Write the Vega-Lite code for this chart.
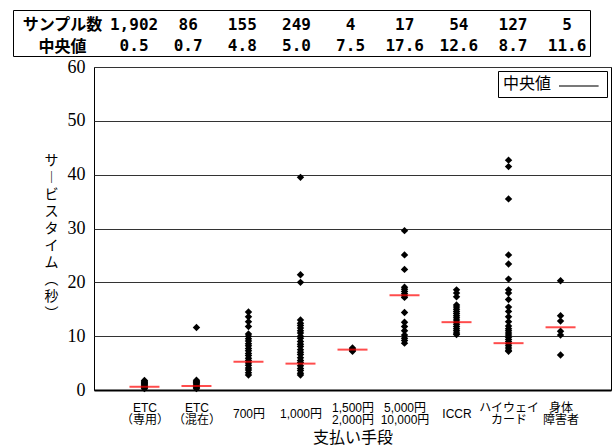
{
  "$schema": "https://vega.github.io/schema/vega-lite/v6.json",
  "padding": {"left": 12, "top": 9, "right": 0, "bottom": 0},
  "background": "white",
  "config": {"view": {"stroke": "black", "strokeWidth": 1}, "font": "Noto Sans CJK JP"},
  "datasets": {
    "table": [
      {"col": "ETC|（専用）", "row": "サンプル数", "t": "1,902"},
      {"col": "ETC|（専用）", "row": "中央値", "t": "0.5"},
      {"col": "ETC|（混在）", "row": "サンプル数", "t": "86"},
      {"col": "ETC|（混在）", "row": "中央値", "t": "0.7"},
      {"col": "700円", "row": "サンプル数", "t": "155"},
      {"col": "700円", "row": "中央値", "t": "4.8"},
      {"col": "1,000円", "row": "サンプル数", "t": "249"},
      {"col": "1,000円", "row": "中央値", "t": "5.0"},
      {"col": "1,500円|2,000円", "row": "サンプル数", "t": "4"},
      {"col": "1,500円|2,000円", "row": "中央値", "t": "7.5"},
      {"col": "5,000円|10,000円", "row": "サンプル数", "t": "17"},
      {"col": "5,000円|10,000円", "row": "中央値", "t": "17.6"},
      {"col": "ICCR", "row": "サンプル数", "t": "54"},
      {"col": "ICCR", "row": "中央値", "t": "12.6"},
      {"col": "ハイウェイ|カード", "row": "サンプル数", "t": "127"},
      {"col": "ハイウェイ|カード", "row": "中央値", "t": "8.7"},
      {"col": "身体|障害者", "row": "サンプル数", "t": "5"},
      {"col": "身体|障害者", "row": "中央値", "t": "11.6"}
    ],
    "med": [
      {"cat": "ETC|（専用）", "m": 0.6},
      {"cat": "ETC|（混在）", "m": 0.74},
      {"cat": "700円", "m": 5.25},
      {"cat": "1,000円", "m": 4.9},
      {"cat": "1,500円|2,000円", "m": 7.5},
      {"cat": "5,000円|10,000円", "m": 17.6},
      {"cat": "ICCR", "m": 12.6},
      {"cat": "ハイウェイ|カード", "m": 8.7},
      {"cat": "身体|障害者", "m": 11.65}
    ],
    "pts": [
      {"cat": "ETC|（専用）", "v": 0.25}, {"cat": "ETC|（専用）", "v": 0.4}, {"cat": "ETC|（専用）", "v": 0.55}, {"cat": "ETC|（専用）", "v": 0.7}, {"cat": "ETC|（専用）", "v": 0.9}, {"cat": "ETC|（専用）", "v": 1.05}, {"cat": "ETC|（専用）", "v": 1.2}, {"cat": "ETC|（専用）", "v": 1.4}, {"cat": "ETC|（専用）", "v": 1.55}, {"cat": "ETC|（専用）", "v": 1.75},
      {"cat": "ETC|（混在）", "v": 0.25}, {"cat": "ETC|（混在）", "v": 0.4}, {"cat": "ETC|（混在）", "v": 0.6}, {"cat": "ETC|（混在）", "v": 0.75}, {"cat": "ETC|（混在）", "v": 0.9}, {"cat": "ETC|（混在）", "v": 1.1}, {"cat": "ETC|（混在）", "v": 1.3}, {"cat": "ETC|（混在）", "v": 1.45}, {"cat": "ETC|（混在）", "v": 1.6}, {"cat": "ETC|（混在）", "v": 1.8}, {"cat": "ETC|（混在）", "v": 11.6},
      {"cat": "700円", "v": 14.5}, {"cat": "700円", "v": 13.6}, {"cat": "700円", "v": 12.7}, {"cat": "700円", "v": 11.8}, {"cat": "700円", "v": 10.4}, {"cat": "700円", "v": 10.0}, {"cat": "700円", "v": 9.5}, {"cat": "700円", "v": 9.1}, {"cat": "700円", "v": 8.6}, {"cat": "700円", "v": 8.2}, {"cat": "700円", "v": 7.7}, {"cat": "700円", "v": 7.3}, {"cat": "700円", "v": 6.8}, {"cat": "700円", "v": 6.4}, {"cat": "700円", "v": 5.9}, {"cat": "700円", "v": 5.5}, {"cat": "700円", "v": 5.0}, {"cat": "700円", "v": 4.6}, {"cat": "700円", "v": 4.1}, {"cat": "700円", "v": 3.7}, {"cat": "700円", "v": 3.2}, {"cat": "700円", "v": 2.8},
      {"cat": "1,000円", "v": 39.5}, {"cat": "1,000円", "v": 21.4}, {"cat": "1,000円", "v": 20.0}, {"cat": "1,000円", "v": 13.0}, {"cat": "1,000円", "v": 12.4}, {"cat": "1,000円", "v": 12.0}, {"cat": "1,000円", "v": 11.5}, {"cat": "1,000円", "v": 11.0}, {"cat": "1,000円", "v": 10.6}, {"cat": "1,000円", "v": 10.0}, {"cat": "1,000円", "v": 9.6}, {"cat": "1,000円", "v": 9.0}, {"cat": "1,000円", "v": 8.5}, {"cat": "1,000円", "v": 8.1}, {"cat": "1,000円", "v": 7.5}, {"cat": "1,000円", "v": 7.0}, {"cat": "1,000円", "v": 6.6}, {"cat": "1,000円", "v": 6.0}, {"cat": "1,000円", "v": 5.5}, {"cat": "1,000円", "v": 5.1}, {"cat": "1,000円", "v": 4.5}, {"cat": "1,000円", "v": 4.0}, {"cat": "1,000円", "v": 3.6}, {"cat": "1,000円", "v": 3.1}, {"cat": "1,000円", "v": 2.8},
      {"cat": "1,500円|2,000円", "v": 7.2}, {"cat": "1,500円|2,000円", "v": 7.4}, {"cat": "1,500円|2,000円", "v": 7.6}, {"cat": "1,500円|2,000円", "v": 7.8},
      {"cat": "5,000円|10,000円", "v": 29.6}, {"cat": "5,000円|10,000円", "v": 25.1}, {"cat": "5,000円|10,000円", "v": 22.4}, {"cat": "5,000円|10,000円", "v": 19.1}, {"cat": "5,000円|10,000円", "v": 18.7}, {"cat": "5,000円|10,000円", "v": 18.3}, {"cat": "5,000円|10,000円", "v": 17.9}, {"cat": "5,000円|10,000円", "v": 17.5}, {"cat": "5,000円|10,000円", "v": 17.2}, {"cat": "5,000円|10,000円", "v": 14.4}, {"cat": "5,000円|10,000円", "v": 12.6}, {"cat": "5,000円|10,000円", "v": 11.8}, {"cat": "5,000円|10,000円", "v": 11.0}, {"cat": "5,000円|10,000円", "v": 10.2}, {"cat": "5,000円|10,000円", "v": 9.6}, {"cat": "5,000円|10,000円", "v": 9.2}, {"cat": "5,000円|10,000円", "v": 8.7},
      {"cat": "ICCR", "v": 18.6}, {"cat": "ICCR", "v": 18.0}, {"cat": "ICCR", "v": 17.3}, {"cat": "ICCR", "v": 15.8}, {"cat": "ICCR", "v": 15.4}, {"cat": "ICCR", "v": 15.0}, {"cat": "ICCR", "v": 14.6}, {"cat": "ICCR", "v": 14.2}, {"cat": "ICCR", "v": 13.8}, {"cat": "ICCR", "v": 13.4}, {"cat": "ICCR", "v": 13.0}, {"cat": "ICCR", "v": 12.6}, {"cat": "ICCR", "v": 12.2}, {"cat": "ICCR", "v": 11.8}, {"cat": "ICCR", "v": 11.4}, {"cat": "ICCR", "v": 11.0}, {"cat": "ICCR", "v": 10.6}, {"cat": "ICCR", "v": 10.3},
      {"cat": "ハイウェイ|カード", "v": 42.7}, {"cat": "ハイウェイ|カード", "v": 41.5}, {"cat": "ハイウェイ|カード", "v": 35.5}, {"cat": "ハイウェイ|カード", "v": 25.1}, {"cat": "ハイウェイ|カード", "v": 23.4}, {"cat": "ハイウェイ|カード", "v": 20.6}, {"cat": "ハイウェイ|カード", "v": 18.6}, {"cat": "ハイウェイ|カード", "v": 18.0}, {"cat": "ハイウェイ|カード", "v": 16.8}, {"cat": "ハイウェイ|カード", "v": 15.4}, {"cat": "ハイウェイ|カード", "v": 14.6}, {"cat": "ハイウェイ|カード", "v": 13.6}, {"cat": "ハイウェイ|カード", "v": 12.7}, {"cat": "ハイウェイ|カード", "v": 11.9}, {"cat": "ハイウェイ|カード", "v": 11.4}, {"cat": "ハイウェイ|カード", "v": 11.0}, {"cat": "ハイウェイ|カード", "v": 10.6}, {"cat": "ハイウェイ|カード", "v": 10.2}, {"cat": "ハイウェイ|カード", "v": 9.8}, {"cat": "ハイウェイ|カード", "v": 9.4}, {"cat": "ハイウェイ|カード", "v": 9.0}, {"cat": "ハイウェイ|カード", "v": 8.6}, {"cat": "ハイウェイ|カード", "v": 8.2}, {"cat": "ハイウェイ|カード", "v": 7.8}, {"cat": "ハイウェイ|カード", "v": 7.4}, {"cat": "ハイウェイ|カード", "v": 7.2},
      {"cat": "身体|障害者", "v": 20.3}, {"cat": "身体|障害者", "v": 13.8}, {"cat": "身体|障害者", "v": 12.8}, {"cat": "身体|障害者", "v": 10.9}, {"cat": "身体|障害者", "v": 10.2}, {"cat": "身体|障害者", "v": 6.5}
    ]
  },
  "spacing": 0,
  "resolve": {"scale": {"color": "independent"}, "legend": {"color": "independent"}},
  "vconcat": [
    {
      "width": 577,
      "height": 46,
      "data": {"name": "table"},
      "mark": {"type": "text", "font": "DejaVu Sans Mono", "fontWeight": "bold", "fontSize": 16, "baseline": "middle", "color": "black"},
      "encoding": {
        "x": {"field": "col", "type": "nominal",
          "scale": {"type": "point", "domain": ["header", "ETC|（専用）", "ETC|（混在）", "700円", "1,000円", "1,500円|2,000円", "5,000円|10,000円", "ICCR", "ハイウェイ|カード", "身体|障害者"], "padding": 0.83, "align": 0.745},
          "axis": null},
        "y": {"field": "row", "type": "nominal", "sort": null, "scale": {"type": "point", "padding": 0.595, "align": 0.6},
          "axis": {"title": null, "orient": "left", "offset": -49, "domain": false, "ticks": false, "tickSize": 0, "labelPadding": 0, "labelAlign": "center", "labelBaseline": "middle", "labelFont": "Noto Sans CJK JP", "labelFontWeight": "bold", "labelFontSize": 16, "labelColor": "black", "grid": false}},
        "text": {"field": "t"}
      }
    },
    {
      "spacing": 0,
      "resolve": {"scale": {"color": "independent"}, "legend": {"color": "independent"}},
      "hconcat": [
        {
          "width": 30,
          "height": 10,
          "view": {"stroke": null},
          "data": {"values": [{}]},
          "mark": {"type": "point", "opacity": 0}
        },
        {
          "width": 517,
          "height": 323,
          "encoding": {
            "x": {"field": "cat", "type": "nominal",
              "sort": ["ETC|（専用）", "ETC|（混在）", "700円", "1,000円", "1,500円|2,000円", "5,000円|10,000円", "ICCR", "ハイウェイ|カード", "身体|障害者"],
              "scale": {"type": "point", "padding": 0.97},
              "axis": {"title": "支払い手段", "labelExpr": "split(datum.label, '|')", "labelAngle": 0, "labelFont": "Liberation Sans, Noto Sans CJK JP", "labelFontSize": 12, "labelColor": "black", "labelBaseline": "top", "labelPadding": {"condition": {"test": "indexof(datum.value, '|') < 0", "value": 18}, "value": 12}, "labelLineHeight": 12, "ticks": false, "tickSize": 0, "domain": true, "domainColor": "black", "domainWidth": 2, "grid": false, "titleFont": "Noto Sans CJK JP", "titleFontSize": 16, "titleFontWeight": "normal", "titleColor": "black", "titleY": 47, "titleBaseline": "middle"}
            }
          },
          "layer": [
            {
              "data": {"name": "pts"},
              "mark": {"type": "point", "shape": "diamond", "filled": true, "color": "black", "size": 55, "opacity": 1},
              "encoding": {
                "y": {"field": "v", "type": "quantitative", "scale": {"domain": [0, 60], "nice": false},
                  "axis": {"title": ["サ", "︱", "ビ", "ス", "タ", "イ", "ム", "︵", "秒", "︶"], "titleAngle": 0, "titleX": -43, "titleY": 86, "titleBaseline": "top", "titleAlign": "center", "titleLineHeight": 17, "titleFontSize": 14, "titleFontWeight": "normal", "titleFont": "Noto Sans CJK JP", "titleColor": "black",
                    "values": [0, 10, 20, 30, 40, 50, 60], "labelFont": "Liberation Sans Narrow", "labelFontSize": 18, "labelPadding": 9, "labelColor": "black", "ticks": false, "tickSize": 0, "domain": false, "grid": true, "gridColor": "#333333", "gridWidth": 1}
                }
              }
            },
            {
              "data": {"name": "med"},
              "mark": {"type": "tick", "thickness": 2, "size": 30},
              "encoding": {
                "y": {"field": "m", "type": "quantitative"},
                "color": {"datum": "中央値", "type": "nominal", "scale": {"range": ["#ff0000"]},
                  "legend": {"title": "中央値", "titleOrient": "left", "orient": "top-right", "offset": 4, "symbolType": "M-1,0H3.4", "symbolSize": 324, "symbolStrokeColor": "black", "symbolStrokeWidth": 1.5, "labelExpr": "''", "labelOffset": 22, "padding": 5, "titlePadding": 6, "titleFontSize": 16, "titleFontWeight": "normal", "titleFont": "Noto Sans CJK JP", "titleColor": "black", "fillColor": "white", "strokeColor": "black"}
                }
              }
            }
          ]
        }
      ]
    }
  ]
}
